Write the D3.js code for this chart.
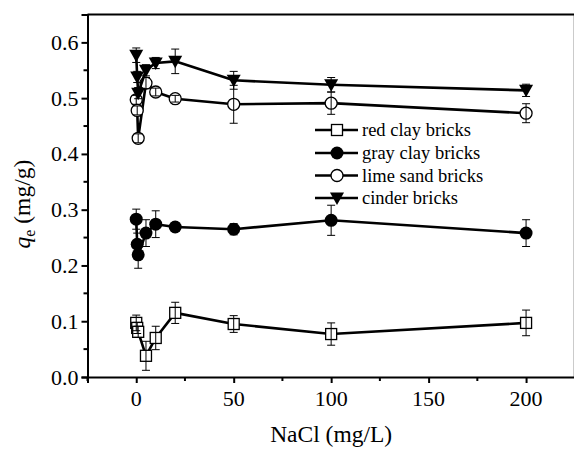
<!DOCTYPE html>
<html>
<head>
<meta charset="utf-8">
<script src="https://cdn.jsdelivr.net/npm/d3@7"></script>
<style>
  html, body { margin: 0; padding: 0; background: #fff; }
  svg { display: block; }
</style>
</head>
<body>
<svg id="chart" width="574" height="452"></svg>
<script>
// NaCl concentration (mg/L)
const nacl = [0, 0.5, 1, 5, 10, 20, 50, 100, 200];

// Equilibrium adsorption q_e (mg/g) and standard deviations per brick type
const redClay    = [0.097, 0.088, 0.081, 0.038, 0.070, 0.115, 0.095, 0.077, 0.097];
const redClayErr = [0.014, 0.010, 0.010, 0.026, 0.021, 0.019, 0.015, 0.020, 0.023];

const grayClay    = [0.283, 0.238, 0.219, 0.258, 0.274, 0.269, 0.265, 0.281, 0.258];
const grayClayErr = [0.018, 0.020, 0.024, 0.024, 0.024, 0.008, 0.010, 0.027, 0.024];

const limeSand    = [0.497, 0.478, 0.428, 0.527, 0.511, 0.499, 0.489, 0.491, 0.473];
const limeSandErr = [0.008, 0.008, 0.008, 0.010, 0.007, 0.006, 0.034, 0.020, 0.017];

const cinder    = [0.577, 0.538, 0.509, 0.550, 0.563, 0.566, 0.532, 0.524, 0.514];
const cinderErr = [0.013, 0.010, 0.010, 0.010, 0.010, 0.022, 0.016, 0.013, 0.011];

const seriesNames = ["red clay bricks", "gray clay bricks", "lime sand bricks", "cinder bricks"];
const seriesVals  = [redClay, grayClay, limeSand, cinder];
const seriesErrs  = [redClayErr, grayClayErr, limeSandErr, cinderErr];
const seriesShape = ["square", "filledCircle", "openCircle", "triangleDown"];

const xTicks = [0, 50, 100, 150, 200];
const yTicks = [0.0, 0.1, 0.2, 0.3, 0.4, 0.5, 0.6];

const FONT = "Liberation Serif";
const TICK_SIZE = 22;
const TITLE_SIZE = 23.5;

const svg = d3.select("#chart");
const W = 574, H = 452;
const margin = { left: 87.5, right: -0.8, top: 14.5, bottom: 75 };

const x = d3.scaleLinear().domain([-25, 225]).range([margin.left, W - margin.right]);
const y = d3.scaleLinear().domain([0, 0.65]).range([H - margin.bottom, margin.top]);

// Serif text helper; horizontal alignment is done by measuring the text width
function addText(parent, str, size) {
  return parent.append("text")
    .attr("font-family", FONT).style("font-family", FONT)
    .attr("font-size", size).attr("fill", "#000").text(str);
}
function alignX(sel, x0, align) {
  sel.each(function () {
    const w = this.getComputedTextLength();
    d3.select(this).attr("x", x0 - w * align);
  });
}

// Frame: top and right edges
svg.append("line").attr("x1", x(-25)).attr("x2", x(225)).attr("y1", y(0.65)).attr("y2", y(0.65))
  .attr("stroke", "#000").attr("stroke-width", 2);
svg.append("line").attr("x1", x(225)).attr("x2", x(225)).attr("y1", y(0.65)).attr("y2", y(0))
  .attr("stroke", "#000").attr("stroke-width", 2);

// Bottom axis (lines from d3, labels drawn separately)
const xAxis = d3.axisBottom(x).tickValues(xTicks).tickFormat("").tickSize(6);
const gx = svg.append("g").attr("transform", `translate(0,${y(0)})`).call(xAxis);
gx.append("g").selectAll("line").data([-25, 25, 75, 125, 175]).join("line")
  .attr("x1", d => x(d)).attr("x2", d => x(d)).attr("y1", 0).attr("y2", 4)
  .attr("stroke", "#000").attr("stroke-width", 2);

// Left axis
const yAxis = d3.axisLeft(y).tickValues(yTicks).tickFormat("").tickSize(6);
const gy = svg.append("g").attr("transform", `translate(${x(-25)},0)`).call(yAxis);
gy.append("g").selectAll("line").data([0.05, 0.15, 0.25, 0.35, 0.45, 0.55]).join("line")
  .attr("x1", 0).attr("x2", -4).attr("y1", d => y(d)).attr("y2", d => y(d))
  .attr("stroke", "#000").attr("stroke-width", 2);

[gx, gy].forEach(g => {
  g.attr("font-family", null).attr("font-size", null).attr("text-anchor", null);
  g.selectAll(".tick text").remove();
  g.select(".domain").attr("stroke-width", 2);
  g.selectAll(".tick line").attr("stroke-width", 2);
});

// Tick labels
const labels = svg.append("g");
const fmtX = d3.format("d"), fmtY = d3.format(".1f");
xTicks.forEach(v => {
  const t = addText(labels, fmtX(v), TICK_SIZE).attr("y", y(0) + 29);
  alignX(t, x(v), 0.5);
});
yTicks.forEach(v => {
  const t = addText(labels, fmtY(v), TICK_SIZE).attr("y", y(v) + 7.5);
  alignX(t, x(-25) - 9, 1);
});

// Axis titles
const xt = addText(svg, "NaCl (mg/L)", TITLE_SIZE).attr("y", 442);
alignX(xt, x(100), 0.5);

const ytG = svg.append("g").attr("transform", `translate(30,${y(0.31)}) rotate(-90)`);
const yt = ytG.append("text").attr("font-family", FONT).style("font-family", FONT)
  .attr("font-size", TITLE_SIZE).attr("fill", "#000");
yt.append("tspan").attr("font-style", "italic").text("q");
yt.append("tspan").attr("font-size", 16).attr("dy", 5).text("e");
yt.append("tspan").attr("dy", -5).text(" (mg/g)");
alignX(yt, 0, 0.5);

// Marker drawing
function drawMarker(g, shape, cx, cy) {
  if (shape === "square") {
    g.append("rect").attr("x", cx - 5.5).attr("y", cy - 5.5).attr("width", 11).attr("height", 11)
      .attr("fill", "#fff").attr("stroke", "#000").attr("stroke-width", 1.3);
  } else if (shape === "filledCircle") {
    g.append("circle").attr("cx", cx).attr("cy", cy).attr("r", 6.5).attr("fill", "#000");
  } else if (shape === "openCircle") {
    g.append("circle").attr("cx", cx).attr("cy", cy).attr("r", 6).attr("fill", "#fff")
      .attr("stroke", "#000").attr("stroke-width", 1.3);
  } else {
    g.append("path").attr("d", `M${cx - 7},${cy - 5.5}L${cx + 7},${cy - 5.5}L${cx},${cy + 7}Z`)
      .attr("fill", "#000");
  }
}

const line = d3.line().x(d => x(d[0])).y(d => y(d[1]));
const plot = svg.append("g");

seriesVals.forEach((vals, si) => {
  const g = plot.append("g");
  const pts = nacl.map((n, i) => [n, vals[i]]);
  g.append("path").attr("d", line(pts)).attr("fill", "none").attr("stroke", "#000")
    .attr("stroke-width", 2.6).attr("stroke-linejoin", "round");
  pts.forEach(p => drawMarker(g, seriesShape[si], x(p[0]), y(p[1])));
  // error bars
  pts.forEach((p, i) => {
    const e = seriesErrs[si][i];
    const cx = x(p[0]);
    const y1 = y(p[1] + e), y2 = y(p[1] - e);
    g.append("line").attr("x1", cx).attr("x2", cx).attr("y1", y1).attr("y2", y2)
      .attr("stroke", "#000").attr("stroke-width", 1);
    [y1, y2].forEach(yy => g.append("line").attr("x1", cx - 4).attr("x2", cx + 4)
      .attr("y1", yy).attr("y2", yy).attr("stroke", "#000").attr("stroke-width", 1));
  });
});

// Legend
const legend = svg.append("g");
const legendY = [130, 153, 175.5, 198];
seriesNames.forEach((name, i) => {
  const g = legend.append("g");
  g.append("line").attr("x1", 315).attr("x2", 358).attr("y1", legendY[i]).attr("y2", legendY[i])
    .attr("stroke", "#000").attr("stroke-width", 2.6);
  drawMarker(g, seriesShape[i], 337, legendY[i]);
  addText(g, name, 18.5).attr("x", 362).attr("y", legendY[i] + 6);
});
</script>
</body>
</html>
